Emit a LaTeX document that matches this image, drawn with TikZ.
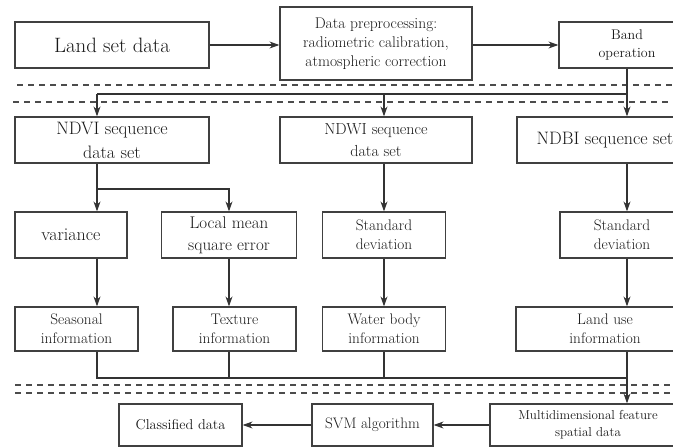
\documentclass[tikz,border=0pt]{standalone}
\usetikzlibrary{arrows.meta}

\begin{document}
\begin{tikzpicture}[x=1pt, y=-1pt,
  box/.style={draw=black!75, line width=1.2pt, text=black!90, align=center, inner sep=0pt},
  arr/.style={-{Stealth[length=10pt,width=7pt]}, draw=black!80, line width=1.1pt},
  wire/.style={draw=black!80, line width=1.1pt},
  sep/.style={draw=black!70, line width=1.2pt, dash pattern=on 6pt off 5pt},
  fhuge/.style={font=\fontsize{20.8}{25}\selectfont},
  fbig/.style={font=\fontsize{18}{24}\selectfont},
  fmid/.style={font=\fontsize{15.3}{19}\selectfont},
  fsmall/.style={font=\fontsize{14}{18}\selectfont},
  ftiny/.style={font=\fontsize{13}{17}\selectfont}]

  \def\xa{97} \def\xc{384} \def\xd{627}

  \useasboundingbox (0,0) rectangle (673,447);
  \clip (0,0) rectangle (673,447);

  % Separators
  \draw[sep] (17,85) -- (680,85) (13,102) -- (680,102);
  \draw[sep] (15,385) -- (680,385) (15,393) -- (680,393);

  % Input and preprocessing
  \node[box, fhuge, minimum width=194, minimum height=46] (land) at (112,45) {Land set data};
  \node[box, font=\fontsize{15.5}{19}\selectfont, minimum width=192, minimum height=73] (prep) at (376,43.5) {Data preprocessing:\\ radiometric calibration,\\ atmospheric correction};
  \node[box, fsmall, minimum width=136, minimum height=46] (band) at (\xd,45) {Band\\ operation};

  % Sequence sets
  \node[box, fbig, minimum width=194, minimum height=46] (ndvi) at (112,140) {NDVI sequence\\ data set};
  \node[box, font=\fontsize{16}{22}\selectfont, minimum width=192, minimum height=46] (ndwi) at (376,140) {NDWI sequence\\ data set};
  \node[box, fbig, minimum width=176, minimum height=46] (ndbi) at (605,140) {NDBI sequence set};

  % Statistics
  \node[box, fbig, minimum width=112, minimum height=46] (var) at (71,235) {variance};
  \node[box, font=\fontsize{17}{22}\selectfont, minimum width=135, minimum height=46] (lmse) at (229,235) {Local mean\\ square error};
  \node[box, fmid, minimum width=123, minimum height=46] (sd1) at (\xc,235) {Standard\\ deviation};
  \node[box, fmid, minimum width=124, minimum height=46] (sd2) at (622,235) {Standard\\ deviation};

  % Information
  \node[box, fmid, minimum width=123, minimum height=44] (seas) at (76.5,329) {Seasonal\\ information};
  \node[box, fmid, minimum width=123, minimum height=44] (tex) at (234.5,329) {Texture\\ information};
  \node[box, fmid, minimum width=123, minimum height=44] (wat) at (\xc,329) {Water body\\ information};
  \node[box, fmid, minimum width=178, minimum height=44] (luse) at (605,329) {Land use\\ information};

  % Output
  \node[box, font=\fontsize{14.3}{18}\selectfont, minimum width=123, minimum height=42] (cls) at (180.5,425) {Classified data};
  \node[box, font=\fontsize{15.2}{18}\selectfont, minimum width=121, minimum height=42] (svm) at (372.5,425) {SVM algorithm};
  \node[box, ftiny, minimum width=196, minimum height=42] (multi) at (588,425) {Multidimensional feature\\ spatial data};

  \coordinate (busA) at (\xa,94);
  \coordinate (busB) at (\xa,189);
  \coordinate (busC) at (\xa,378);
  \coordinate (colD) at (\xd,0);

  % Top flow
  \draw[arr] (land.east) -- (land.east -| prep.west);
  \draw[arr] (prep.east |- band.west) -- (band.west);
  \draw[arr] (band.south) -- (band.south |- ndbi.north);
  \draw[wire] (busA) -- (busA -| band.south);
  \draw[arr] (busA) -- (busA |- ndvi.north);
  \draw[arr] (busA -| sd1) -- (sd1 |- ndwi.north);

  % Columns
  \draw[arr] (busA |- ndvi.south) -- (busA |- var.north);
  \draw[arr] (busB) -| (lmse.north);
  \draw[arr] (sd1 |- ndwi.south) -- (sd1.north);
  \draw[arr] (colD |- ndbi.south) -- (colD |- sd2.north);
  \draw[arr] (busA |- var.south) -- (busA |- seas.north);
  \draw[arr] (lmse.south) -- (lmse.south |- tex.north);
  \draw[arr] (sd1.south) -- (wat.north);
  \draw[arr] (colD |- sd2.south) -- (colD |- luse.north);

  % Gather and classify
  \draw[wire] (busA |- seas.south) -- (busC) -- (busC -| colD);
  \draw[wire] (lmse |- tex.south) -- (lmse |- busC);
  \draw[wire] (wat.south) -- (wat.south |- busC);
  \draw[arr] (colD |- luse.south) -- (colD |- multi.north);
  \draw[arr] (multi.west) -- (svm.east);
  \draw[arr] (svm.west) -- (cls.east);

\end{tikzpicture}
\end{document}
